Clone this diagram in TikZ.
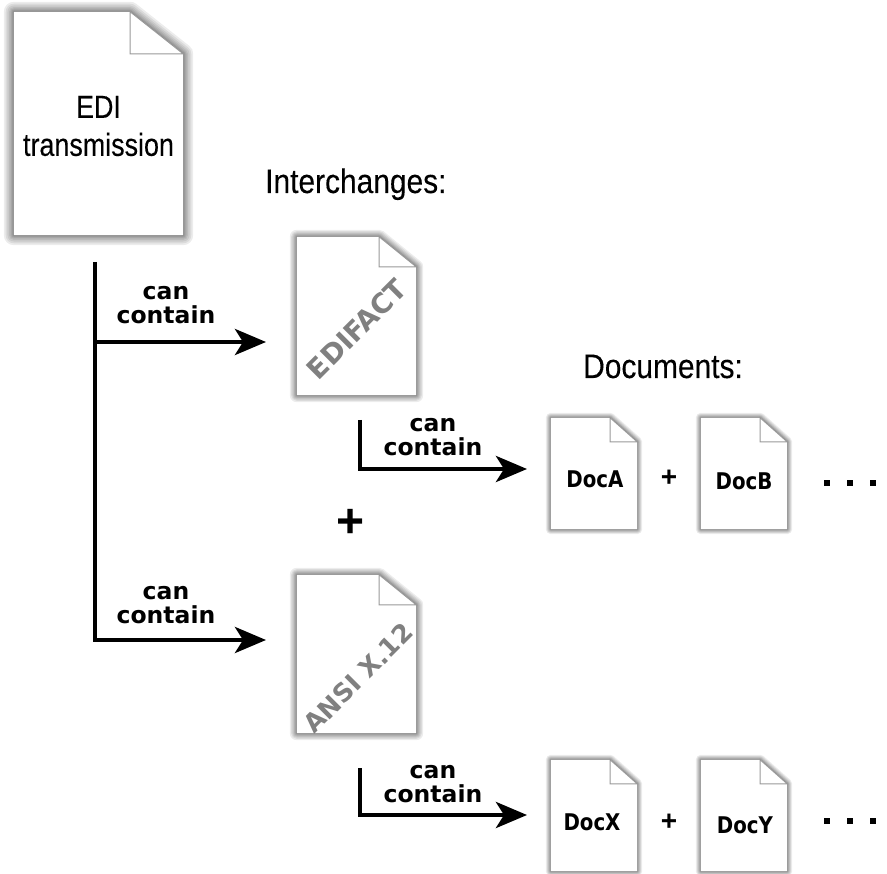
\documentclass[tikz,border=0pt]{standalone}
\usepackage{fontspec}
\setmainfont{Liberation Sans}
\newfontfamily\narrowa[FakeStretch=.84,FakeBold=.15]{Liberation Sans}
\newfontfamily\narrowb[FakeStretch=.88,FakeBold=.15]{Liberation Sans}
\newfontfamily\boldf{DejaVu Sans Bold}
\newfontfamily\boldn[FakeStretch=.86]{DejaVu Sans Bold}
\usetikzlibrary{arrows.meta}
\definecolor{stampgrey}{gray}{.5}
\tikzset{
  x=1pt,y=-1pt,
  conn/.style={line width=4.5pt,black,line cap=butt,line join=miter},
  arrowc/.style={conn,-{Stealth[length=31pt,width=26pt,inset=8pt]}},
  label/.style={font=\boldf\fontsize{23.5}{24}\selectfont,align=center,inner sep=0pt,text=black},
  doctext/.style={font=\boldn\fontsize{23}{24}\selectfont,inner sep=0pt,text=black},
  head/.style={font=\narrowb\fontsize{34}{38}\selectfont,inner sep=0pt,text=black,anchor=base west},
  stamp/.style={font=\boldf\fontsize{#1}{#1}\selectfont,text=stampgrey,inner sep=0pt,rotate=45},
  dots/.style={fill=black,minimum size=6.5pt,inner sep=0pt,draw=none},
  pagebox/.style={draw=none,inner sep=0pt},
}
% name, cx, cy, w, h, fold width, fold height, shadow radius
\newcommand{\page}[8]{%
  \node[pagebox,minimum width=#4pt,minimum height=#5pt] (#1) at (#2,#3) {};
  \def\pagepath{(#1.north west) -- ([xshift=-#6pt]#1.north east) -- ([yshift=-#7pt]#1.north east) -- (#1.south east) -- (#1.south west) -- cycle}
  \begin{scope}[yshift=-1pt]
  \foreach \k in {1,...,8}{
    \pgfmathsetmacro{\lw}{#8*2*(\k/8)^1.6}
    \draw[black,opacity=.075,line width=\lw pt,line join=round] \pagepath;
  }
  \end{scope}
  \fill[white] \pagepath;
  \draw[black!40,line width=1pt,fill=white,line join=miter]
    ([xshift=-#6pt]#1.north east) -- ([xshift=-#6pt,yshift=-#7pt]#1.north east) -- ([yshift=-#7pt]#1.north east) -- cycle;
}
\begin{document}
\begin{tikzpicture}
\useasboundingbox (0,0) rectangle (887,874);
\fill[white] (0,0) rectangle (887,874);
% pages
\page{edi}{98.5}{123.5}{169}{223}{53}{42}{10}
\page{edifact}{356.5}{316}{119}{158}{37}{30}{7}
\page{ansi}{356.5}{654}{119}{158}{37}{30}{7}
\page{doca}{594}{473.5}{86}{111}{27}{24}{5}
\page{docb}{744}{473.5}{86}{111}{27}{24}{5}
\page{docx}{594}{815.5}{86}{111}{27}{24}{5}
\page{docy}{744}{815.5}{86}{111}{27}{24}{5}
% texts
\node[inner sep=0pt,font=\narrowa\fontsize{32}{38}\selectfont,align=center] (editext) at (98.5,126) {EDI\\transmission};
\node[head] (interch) at (265,193) {Interchanges:};
\node[head] (docs) at (583,378) {Documents:};
\node[stamp=27.5] (edifacttext) at (357,329) {EDIFACT};
\node[stamp=25.5] (ansitext) at (358,678) {ANSI X.12};
\node[doctext] (ta) at (595,479) {DocA};
\node[doctext] (tb) at (744,481) {DocB};
\node[doctext] (tx) at (592,822) {DocX};
\node[doctext] (ty) at (745,825) {DocY};
% plus signs
\node[inner sep=0pt,font=\fontsize{28}{28}\selectfont\bfseries] (p1) at (669,478) {+};
\node[inner sep=0pt,font=\fontsize{28}{28}\selectfont\bfseries] (p2) at (669,822) {+};
\node[inner sep=0pt,font=\fontsize{48}{48}\selectfont\bfseries] (p3) at (351,523) {+};
% ellipses
\foreach \n/\x/\y in {d1/827/483,d2/850/483,d3/873/483,d4/827/821,d5/850/821,d6/873/821}
  \node[dots] (\n) at (\x,\y) {};
% connector ends
\coordinate (t1) at (95,262);
\coordinate (j1) at (95,342);
\coordinate (j2) at (95,640);
\coordinate (a1) at (266,342);
\coordinate (a2) at (266,640);
\coordinate (t2) at (360,420);
\coordinate (j3) at (360,469);
\coordinate (a3) at (527,469);
\coordinate (t3) at (360,768);
\coordinate (j4) at (360,815);
\coordinate (a4) at (527,815);
\draw[conn] (t1) -- ([yshift=-2pt]j2);
\draw[arrowc] (j1) -- (a1);
\draw[arrowc] ([xshift=-2pt]j2) -- (a2);
\draw[arrowc] (t2) |- (a3);
\draw[arrowc] (t3) |- (a4);
% can contain
\node[label] (l1) at (166,305) {can\\contain};
\node[label] (l2) at (166,605) {can\\contain};
\node[label] (l3) at (433,437) {can\\contain};
\node[label] (l4) at (433,784) {can\\contain};
\end{tikzpicture}
\end{document}
